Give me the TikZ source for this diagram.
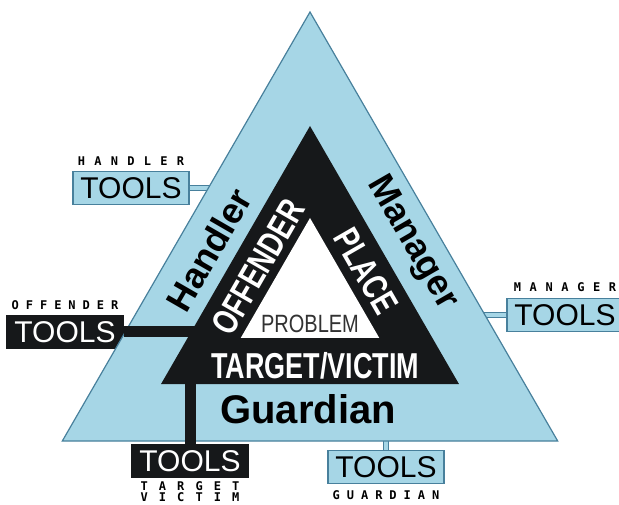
\documentclass[tikz,border=0pt]{standalone}
\usepackage{fontspec}
\usepackage{graphicx}
\setmainfont{Liberation Sans}
\newfontfamily\capsfont{DejaVu Sans Mono}
\usetikzlibrary{positioning, shapes.geometric}

\definecolor{skyfill}{RGB}{166,214,230}
\definecolor{skyedge}{RGB}{72,128,156}
\definecolor{ink}{RGB}{22,24,26}
\definecolor{slate}{RGB}{50,50,50}

% spaced capitals under and over the boxes
\newcommand{\spaced}[2]{{\capsfont\bfseries\addfontfeatures{LetterSpace=#1}#2}}

\begin{document}
\begin{tikzpicture}[x=1pt, y=-1pt,
  toolbox/.style={draw=skyedge, fill=skyfill, line width=1.2pt, minimum width=116pt, minimum height=33pt, inner sep=0pt, font=\fontsize{30}{30}\selectfont},
  darkbox/.style={toolbox, draw=ink, fill=ink, text=white},
  tag/.style={inner sep=0pt, align=center, font=\fontsize{12}{11.5}\selectfont},
  band/.style={regular polygon, regular polygon sides=3, inner sep=0pt},
  skylink/.style={draw=skyedge, line width=1pt, double=skyfill, double distance=4pt},
  inklink/.style={draw=ink, line width=11pt},
  word/.style={inner sep=0pt, font=\fontsize{36}{36}\selectfont\bfseries},
  narrow/.style={inner sep=0pt, text=white, font=\fontsize{36}{36}\selectfont\bfseries}]

\useasboundingbox (0,0) rectangle (619,505);
\coordinate (mid) at (310,298);

% tools boxes and their tags
\node[toolbox] (htools) at (131,188) {TOOLS};
\node[darkbox] (otools) at (65,332) {TOOLS};
\node[darkbox] (ttools) at (190,461) {TOOLS};
\node[toolbox] (gtools) at (386,467) {TOOLS};
\node[toolbox] (mtools) at (565,315) {TOOLS};

\node[tag, above=5pt of htools] (htag) {\spaced{77}{HANDLER}};
\node[tag, above=5pt of otools] (otag) {\spaced{58}{OFFENDER}};
\node[tag, above=6pt of mtools] (mtag) {\spaced{72}{MANAGER}};
\node[tag, below=3pt of ttools] (ttag) {\spaced{92}{TARGET}\\\spaced{92}{VICTIM}};
\node[tag, below=6pt of gtools] (gtag) {\spaced{58}{GUARDIAN}};

\draw[skylink] (htools.east) -- (htools.east -| mid);
\draw[skylink] (mtools.west) -- (mtools.west -| mid);
\draw[skylink] (gtools.north) -- (gtools.north |- mid);

% the three triangles
\node[band, draw=skyedge, line width=1.2pt, fill=skyfill, minimum size=572pt] (outer) at (mid) {};
\node[band, fill=ink, minimum size=344pt] (core) at (mid) {};
\node[band, fill=white, minimum size=160pt] (hole) at (mid) {};

\draw[inklink] (otools.east) -- (otools.east -| core.side 1);
\draw[inklink] (ttools.north) -- (ttools.north |- core.corner 2);

\node[word, rotate=60] (handler) at (209,250) {Handler};
\node[word, rotate=-60] (manager) at (412,243) {Manager};
\node[word, font=\fontsize{40}{40}\selectfont\bfseries] (guardian) at (308,409) {Guardian};

\node[narrow, rotate=60] (offender) at (258,267) {\scalebox{0.75}[1]{OFFENDER}};
\node[narrow, rotate=-60] (place) at (366,271) {\scalebox{0.75}[1]{PLACE}};
\node[narrow] (target) at (315,366) {\scalebox{0.75}[1]{TARGET/VICTIM}};
\node[inner sep=0pt, text=slate, font=\fontsize{25}{25}\selectfont] (problem) at (310,324) {\scalebox{0.8}[1]{PROBLEM}};
\end{tikzpicture}
\end{document}
